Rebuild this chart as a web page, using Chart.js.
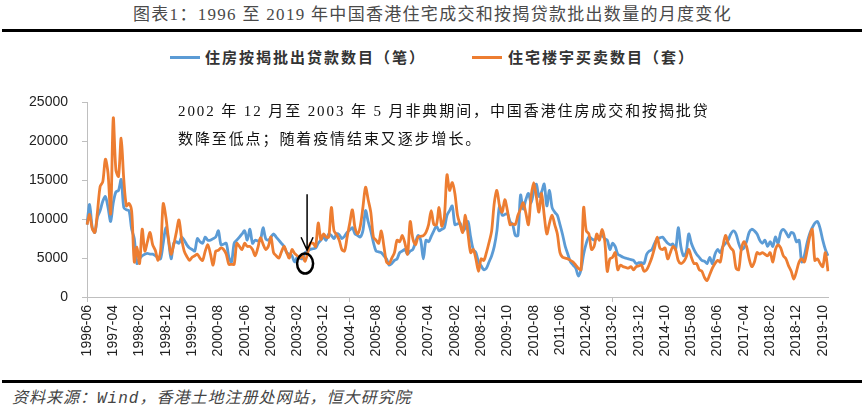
<!DOCTYPE html>
<html>
<head>
<meta charset="utf-8">
<title>香港住宅成交和按揭贷款</title>
<script src="https://cdn.jsdelivr.net/npm/chart.js@4.4.1/dist/chart.umd.min.js"></script>
<style>
  body { margin: 0; background: #fff; }
  #page { position: relative; width: 865px; height: 410px; overflow: hidden;
          font-family: "Liberation Serif", "Noto Sans CJK SC", serif; color: #222; }
  .rule { position: absolute; left: 2px; width: 860px; height: 3px; background: #000; }
  #title { position: absolute; top: 4px; left: 0; width: 865px; text-align: center;
           font-size: 17px; line-height: 22px; letter-spacing: 1.3px; color: #4a4a4a; }
  #legend { position: absolute; top: 47px; left: 0; width: 865px; height: 20px;
            font-family: "Noto Sans CJK SC", sans-serif; font-weight: bold;
            font-size: 15px; line-height: 20px; letter-spacing: 2px; color: #333; }
  .key { position: absolute; top: 9px; width: 30px; height: 3px; }
  .lbl { position: absolute; top: 0; white-space: nowrap; }
  #note { position: absolute; left: 178px; top: 97px; font-size: 15px; line-height: 28px;
          letter-spacing: 1.9px; color: #111; white-space: nowrap; }
  #source { position: absolute; left: 12px; top: 388px; font-size: 16px; line-height: 20px;
            font-style: italic; letter-spacing: 1px; color: #444; white-space: nowrap; }
  #box { position: absolute; left: 0; top: 80px; width: 865px; height: 298px; }
</style>
</head>
<body>
<div id="page">
  <div id="title">图表1：1996 至 2019 年中国香港住宅成交和按揭贷款批出数量的月度变化</div>
  <div class="rule" style="top:29px"></div>

  <div id="legend">
    <span class="key" style="left:170px;background:#5B9BD5"></span>
    <span class="lbl" style="left:205px">住房按揭批出贷款数目（笔）</span>
    <span class="key" style="left:472px;background:#ED7D31"></span>
    <span class="lbl" style="left:508px">住宅楼宇买卖数目（套）</span>
  </div>

  <div id="box"><canvas id="chart"></canvas></div>

  <div id="note">2002 年 12 月至 2003 年 5 月非典期间，中国香港住房成交和按揭批贷<br>数降至低点；随着疫情结束又逐步增长。</div>

  <div class="rule" style="top:380px"></div>
  <div id="source">资料来源：<span style="font-family:'Liberation Mono',monospace">Wind</span>，香港土地注册处网站，恒大研究院</div>
</div>

<script>
// monthly data, first month 1996-06
const startYear = 1996, startMonth = 6;

// 住房按揭批出贷款数目（笔）
const mortgageLoans = [
  9300, 11900, 8900, 8300, 10300, 11100, 12300, 12900, 11500, 9700,
  12100, 13500, 13700, 15100, 11500, 11200, 11100, 8700, 7500, 4300,
  4900, 5300, 5500, 5600, 5500, 5500, 5300, 5100, 4900, 6900,
  8900, 7300, 4900, 6900, 7100, 6900, 7700, 7300, 6700, 6300,
  6100, 5900, 7500, 7100, 6900, 7700, 7300, 7300, 7500, 7700,
  8500, 6700, 6800, 6900, 5100, 4500, 6900, 7300, 7700, 8100,
  8500, 7300, 8700, 6900, 7300, 7200, 7300, 8900, 7500, 7300,
  7700, 8100, 7700, 7300, 6900, 6500, 5700, 5500, 5300, 4500,
  5100, 5000, 4900, 5700, 5900, 6100, 6200, 6300, 6900, 7300,
  7700, 7300, 8100, 7900, 7500, 8100, 8000, 7500, 7800, 8300,
  8600, 8900, 8100, 7900, 7700, 8500, 11100, 9700, 8500, 7000,
  5900, 5800, 5700, 5300, 4900, 4100, 4300, 4700, 4900, 5700,
  5900, 6100, 5500, 5900, 6100, 7000, 7900, 7300, 4900, 7300,
  7100, 7800, 8500, 9100, 8500, 8700, 8900, 10500, 11100, 11700,
  9300, 9400, 9500, 8500, 8900, 9700, 7700, 6100, 5700, 4500,
  4000, 3500, 3700, 4500, 5300, 6500, 8500, 11700, 10500, 10600,
  10700, 9700, 9300, 7900, 7900, 13100, 11300, 12500, 13300, 12100,
  13500, 14500, 12900, 13500, 14500, 11700, 13700, 11500, 10900, 10500,
  9300, 8000, 6500, 5500, 4500, 4100, 3700, 2700, 3500, 5500,
  6900, 7700, 7500, 7300, 7500, 7700, 7900, 7500, 7300, 6100,
  6900, 6500, 5500, 5300, 5100, 5000, 4900, 4800, 4700, 4300,
  4400, 4400, 4300, 5500, 5900, 6100, 6900, 7500, 7600, 7700,
  7300, 6900, 6700, 6800, 6100, 8900, 6500, 5300, 5700, 8100,
  6900, 6100, 5500, 5100, 4700, 4600, 4300, 5100, 4300, 5500,
  6100, 5700, 6500, 6900, 7300, 8100, 8500, 8100, 6900, 6100,
  6300, 7100, 8300, 8700, 8500, 8100, 7300, 6900, 7300, 6500,
  7100, 6500, 7700, 6900, 8300, 8700, 8300, 7700, 8300, 8100,
  7100, 7300, 4500, 5300, 6900, 8100, 8900, 9500, 9700, 8800,
  7300, 6100, 5300
];

// 住宅楼宇买卖数目（套）
const flatSales = [
  9300, 10600, 8800, 8300, 11000, 14200, 14800, 17700, 15900, 10700,
  23000, 16300, 15500, 20400, 15100, 11700, 12000, 11000, 4500, 6400,
  4300, 8700, 5900, 7100, 8300, 6700, 6000, 4700, 5900, 12000,
  10300, 7500, 5500, 6700, 8300, 9900, 7500, 5900, 5200, 4700,
  5100, 5300, 5500, 5000, 4700, 5900, 6700, 5500, 4100, 5900,
  6000, 6300, 6100, 5500, 4200, 4200, 4200, 6900, 6500, 6100,
  6900, 6500, 6500, 6100, 5300, 6300, 7600, 6800, 6100, 6500,
  7700, 5700, 5300, 5000, 5800, 6500, 5700, 5000, 6100, 5600,
  5300, 5000, 5300, 4600, 5700, 6900, 6900, 6500, 9500, 7400,
  8100, 7700, 7700, 11500, 8500, 8000, 7300, 6100, 5900, 7700,
  9500, 11200, 8900, 8100, 9100, 11500, 14100, 12500, 10900, 7700,
  7300, 6900, 8500, 6500, 4500, 4300, 5000, 5700, 7300, 7100,
  7900, 6900, 5500, 9700, 7500, 6700, 7700, 7800, 7900, 8300,
  9300, 11100, 9300, 9300, 11500, 9100, 10300, 15700, 13700, 14700,
  13300, 10500, 9300, 8300, 10500, 8100, 5700, 6100, 4900, 3300,
  4900, 4700, 5700, 7000, 8500, 12100, 13700, 11700, 10900, 12500,
  11100, 9300, 9400, 9300, 10500, 11300, 12100, 10800, 9300, 12900,
  14700, 12900, 10900, 13300, 10500, 8100, 9500, 10500, 9300, 8100,
  5700, 5100, 5000, 4900, 4700, 4500, 4100, 3700, 3500, 11500,
  8500, 8100, 6100, 6500, 8100, 7300, 8700, 7300, 3300, 4900,
  5100, 5700, 3500, 4100, 3900, 3800, 3700, 3900, 3500, 3900,
  4000, 4100, 3300, 3500, 4200, 5100, 6300, 7700, 6300, 6100,
  6300, 4900, 5700, 6500, 6100, 4700, 4300, 4500, 5100, 6100,
  5100, 4300, 4300, 3500, 3300, 2500, 2100, 2900, 3700, 4300,
  4700, 4500, 6500, 7900, 6900, 6300, 5900, 3700, 3500, 6100,
  7100, 6500, 4900, 3900, 4500, 5700, 5500, 5700, 5500, 5300,
  5700, 4500, 6100, 6700, 6300, 5300, 4900, 4000, 3300, 2300,
  3300, 4500, 4900, 4500, 5900, 7700, 8700, 4700, 4900, 4300,
  3900, 5700, 3300
];

const yTicks = [0, 5000, 10000, 15000, 20000, 25000];

// SARS mark: circle on 2003-05, arrow pointing down to it
const sarsIndex = 83, sarsValue = 4300;
const arrowTop = 13200, arrowTip = 6000;

const months = [];
for (let i = 0; i < flatSales.length; i++) {
    let m = startMonth - 1 + i;
    let y = startYear + Math.floor(m / 12);
    months.push(y + '-' + String(m % 12 + 1).padStart(2, '0'));
}

const axisGrey = '#bfbfbf';
const tickFont = { family: 'Liberation Sans, Arial, sans-serif', size: 14 };

const sarsMarker = {
    id: 'sarsMarker',
    afterDatasetsDraw(chart) {
        const { ctx, scales: { x, y } } = chart;
        const cx = x.getPixelForValue(sarsIndex);
        const cy = y.getPixelForValue(sarsValue);
        const ax = cx + 2;
        const y0 = y.getPixelForValue(arrowTop);
        const y1 = y.getPixelForValue(arrowTip);
        ctx.save();
        ctx.strokeStyle = '#000';
        ctx.lineWidth = 2.5;
        ctx.beginPath();
        ctx.ellipse(cx, cy, 8, 10, 0, 0, Math.PI * 2);
        ctx.stroke();
        ctx.lineWidth = 1.5;
        ctx.beginPath();
        ctx.moveTo(ax, y0);
        ctx.lineTo(ax, y1);
        ctx.moveTo(ax - 6, y1 - 13);
        ctx.lineTo(ax, y1);
        ctx.lineTo(ax + 6, y1 - 13);
        ctx.stroke();
        ctx.restore();
    }
};

new Chart(document.getElementById('chart'), {
    type: 'line',
    data: {
        labels: months,
        datasets: [{
            label: '住房按揭批出贷款数目（笔）',
            data: mortgageLoans,
            borderColor: '#5B9BD5',
            borderWidth: 2.8,
            pointRadius: 0,
            tension: 0.3,
            order: 2
        }, {
            label: '住宅楼宇买卖数目（套）',
            data: flatSales,
            borderColor: '#ED7D31',
            borderWidth: 2.8,
            pointRadius: 0,
            tension: 0.3,
            order: 1
        }]
    },
    options: {
        responsive: true,
        maintainAspectRatio: false,
        animation: false,
        layout: { padding: { top: 10, right: 37, bottom: 0, left: 0 } },
        scales: {
            x: {
                offset: false,
                border: { color: axisGrey },
                grid: {
                    drawOnChartArea: false,
                    tickLength: 5,
                    color: c => c.index % 10 === 0 ? axisGrey : 'rgba(0,0,0,0)'
                },
                ticks: {
                    autoSkip: false,
                    minRotation: 90,
                    maxRotation: 90,
                    padding: 3,
                    color: '#222',
                    font: tickFont,
                    callback: (v, i) => i % 10 === 0 ? months[i] : null
                },
                afterFit: s => { s.height = 81; }
            },
            y: {
                min: 0,
                max: 25000,
                border: { color: axisGrey },
                grid: { drawOnChartArea: false, tickLength: 5, color: axisGrey },
                afterBuildTicks: s => { s.ticks = yTicks.map(v => ({ value: v })); },
                ticks: {
                    padding: 14,
                    color: '#222',
                    font: tickFont,
                    callback: v => String(v)
                },
                afterFit: s => { s.width = 87; }
            }
        },
        plugins: {
            legend: { display: false },
            tooltip: { enabled: false }
        }
    },
    plugins: [sarsMarker]
});
</script>
</body>
</html>
